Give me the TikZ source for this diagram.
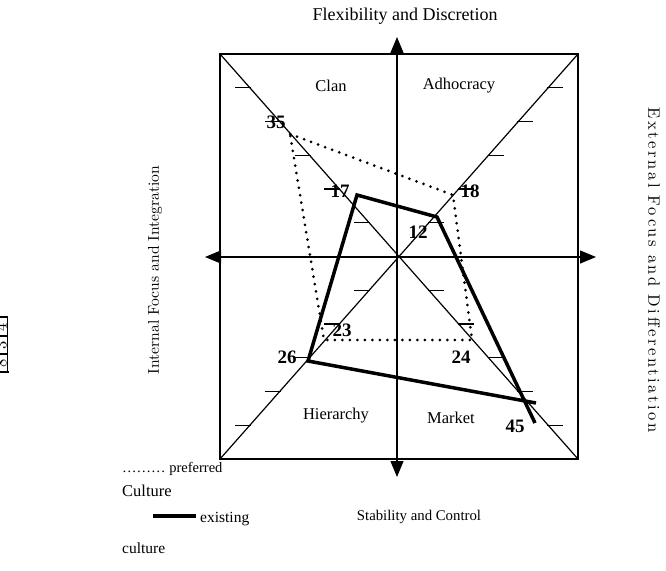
\documentclass[tikz,border=0pt]{standalone}
\usepackage{fontspec}
\newfontfamily\timesfont{Liberation Serif}
\newfontfamily\lmfont{lmroman10-regular.otf}
\usetikzlibrary{arrows.meta,calc}

\begin{document}
\begin{tikzpicture}[x=1pt,y=-1pt,
	thin line/.style={line width=1.2pt},
	both heads/.style={{Triangle[width=13pt,length=16pt]}-{Triangle[width=13pt,length=16pt]}},
	preferred/.style={line width=3pt, dash pattern=on 0pt off 7.5pt, line cap=round},
	existing/.style={line width=3.5pt},
	value/.style={font=\timesfont\bfseries\fontsize{19}{19}\selectfont, inner sep=0pt},
	quadrant/.style={font=\timesfont\fontsize{16.5}{16.5}\selectfont, inner sep=0pt},
	side/.style={font=\lmfont\fontsize{16.5}{16.5}\selectfont, inner sep=0pt},
	legend/.style={font=\timesfont\fontsize{15.5}{15.5}\selectfont, inner sep=0pt, anchor=base west}]
	\useasboundingbox (0,0) rectangle (666,570);

	\coordinate (tl) at (220,54);
	\coordinate (tr) at (578,54);
	\coordinate (bl) at (220,459);
	\coordinate (br) at (578,459);
	\coordinate (c) at (399,256.5);
	\coordinate (n) at (397,37);
	\coordinate (s) at (397,477);
	\coordinate (w) at (205,257);
	\coordinate (e) at (596,257);

	\draw [thin line] (tl) rectangle (br);
	\draw [thin line] (tl) -- (br);
	\draw [thin line] (tr) -- (bl);
	\draw [thin line, both heads] (s) -- (n);
	\draw [thin line, both heads] (w) -- (e);

	\foreach \k in {1,...,5}{
		\draw [thin line] ($(c)!\k/6!(tl)$) ++(1,0) -- ++(-16,0);
		\draw [thin line] ($(c)!\k/6!(bl)$) ++(1,0) -- ++(-16,0);
		\draw [thin line] ($(c)!\k/6!(tr)$) ++(-1,0) -- ++(16,0);
		\draw [thin line] ($(c)!\k/6!(br)$) ++(-1,0) -- ++(16,0);
	}

	\node at (331,86) [quadrant] (clan) {Clan};
	\node at (459,86) [quadrant] (adhocracy) {Adhocracy};
	\node at (336,416) [quadrant] (hierarchy) {Hierarchy};
	\node at (451,418) [quadrant] (market) {Market};

	\coordinate (p35) at (290,134);
	\coordinate (p18) at (453,195);
	\coordinate (p24) at (472,340);
	\coordinate (p23) at (324,340);
	\coordinate (e17) at (357,195);
	\coordinate (e12) at (437,217);
	\coordinate (e26) at (308,361);
	\coordinate (e45a) at (535,423);
	\coordinate (e45b) at (536,403);

	\draw [preferred] (p35) -- (p18) -- (p24) -- (p23) -- cycle;
	\draw [existing] (e45a) -- (e12) -- (e17) -- (e26) -- (e45b);

	\node at (276,122) [value] (v35) {35};
	\node at (340,191) [value] (v17) {17};
	\node at (470,191) [value] (v18) {18};
	\node at (418,232) [value] (v12) {12};
	\node at (342,330) [value] (v23) {23};
	\node at (287,357) [value] (v26) {26};
	\node at (461,357) [value] (v24) {24};
	\node at (515,426) [value] (v45) {45};

	\node at (405,16) [font=\timesfont\fontsize{18}{18}\selectfont, inner sep=0pt] (top) {Flexibility and Discretion};
	\node at (419,517) [font=\timesfont\fontsize{14.8}{14.8}\selectfont, inner sep=0pt] (bottom) {Stability and Control};
	\node at (155,270) [side, rotate=90, font=\lmfont\fontsize{15.6}{15.6}\selectfont] (left) {Internal Focus and Integration};
	\node at (654,270) [side, rotate=-90] (right) {\addfontfeature{LetterSpace=15.4}External Focus and Differentiation};

	\node at (122,472) [legend, font=\timesfont\fontsize{14.5}{14.5}\selectfont] (l1) {……… preferred};
	\node at (122,496) [legend, font=\timesfont\fontsize{16.5}{16.5}\selectfont] (l2) {Culture};
	\coordinate (bar1) at (153,516);
	\coordinate (bar2) at (196,516);
	\draw [line width=4pt] (bar1) -- (bar2);
	\node at (200,522) [legend] (l3) {existing};
	\node at (122,553) [legend] (l4) {culture};

	% cut-off table at the left edge
	\draw [thin line] (7.5,316) -- (7.5,372);
	\foreach \y in {317,336,354}
		\draw [thin line] (0,\y) -- (7.5,\y);
	\draw [line width=2.5pt] (0,372) -- (8.5,372);
	\node at (1,327) [side, rotate=90] (t1) {4};
	\node at (1,345) [side, rotate=90] (t2) {3};
	\node at (1,363) [side, rotate=90] (t3) {8};
\end{tikzpicture}
\end{document}
